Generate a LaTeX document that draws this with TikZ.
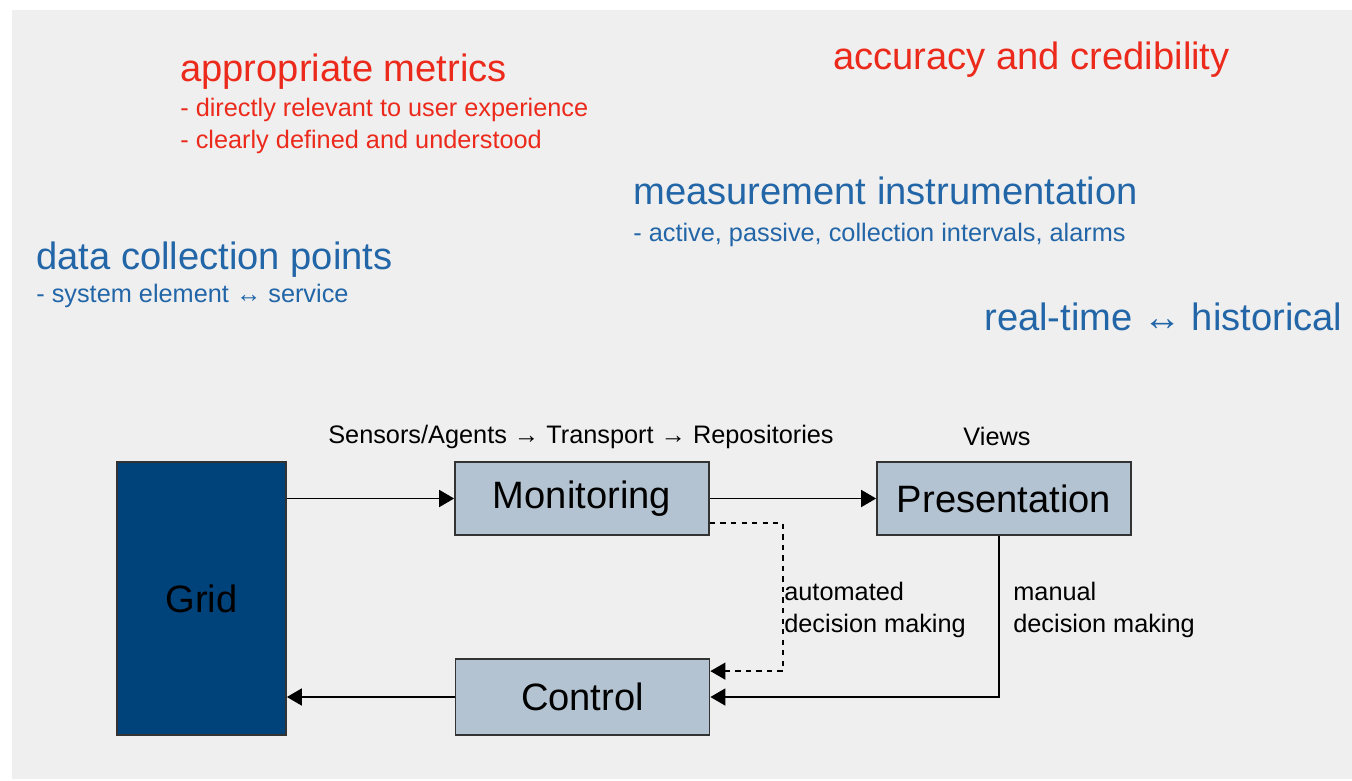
\documentclass[tikz,border=0pt]{standalone}
\usepackage{fontspec}
\setmainfont{Liberation Sans}
\usetikzlibrary{positioning, arrows.meta, calc}
\definecolor{bgGrey}{HTML}{EFEFEF}
\definecolor{txtRed}{HTML}{EC2A1C}
\definecolor{txtBlue}{HTML}{2266A8}
\definecolor{gridFill}{HTML}{00427A}
\definecolor{boxFill}{HTML}{B4C3D1}
\definecolor{boxLine}{HTML}{333333}
\newcommand{\bigtxt}{\fontsize{21.7pt}{26pt}\selectfont}
\newcommand{\smalltxt}{\fontsize{14.4pt}{18.2pt}\selectfont}

\begin{document}
\begin{tikzpicture}[blk/.style={draw=boxLine, line width=1pt, fill=boxFill, minimum width=5.08cm, minimum height=1.46cm, inner sep=0pt, font=\bigtxt},head/.style={anchor=base west, inner sep=0pt, font=\bigtxt},note/.style={anchor=base west, inner sep=0pt, font=\smalltxt},lbl/.style={inner sep=0pt, font=\smalltxt, align=left},arr/.style={-{Triangle[length=0.3cm, width=0.34cm]}, line width=1pt}]
\useasboundingbox (0,0) rectangle (27.04,-15.62);
\fill[bgGrey] (0.24,-0.2) rectangle (27.04,-15.58);
% blocks
\node[blk, fill=gridFill, minimum width=3.38cm, minimum height=5.46cm] (grid) at (4.03,-11.97) {Grid};
\node[blk] (mon) at (11.64,-9.97) {Monitoring};
\node[blk] (pres) at (20.08,-9.97) {Presentation};
\node[blk, minimum height=1.52cm] (ctrl) at (11.65,-13.94) {Control};
% connectors
\draw[arr] (grid.east |- mon.west) -- (mon.west);
\draw[arr] (mon.east) -- (pres.west);
\draw[arr, dashed, line width=0.8pt] ([yshift=0.26cm]mon.south east) -- ++(1.46,0) |- ([yshift=-0.26cm]ctrl.north east);
\draw[arr] ([xshift=-0.1cm]pres.south) |- (ctrl.east);
\draw[arr] (ctrl.west) -- (ctrl.west -| grid.east);
% labels
\node[note, anchor=base] (path) at (11.62,-8.86) {Sensors/Agents → Transport → Repositories};
\node[note, anchor=base] (views) at (19.94,-8.90) {Views};
\node[lbl, anchor=west] (auto) at (15.68,-12.19) {automated\\decision making};
\node[lbl, anchor=west] (manual) at (20.26,-12.19) {manual\\decision making};
% headings
\node[head, color=txtRed] (metrics) at (3.6,-1.64) {appropriate metrics};
\node[note, color=txtRed] (metricsA) at (3.6,-2.34) {- directly relevant to user experience};
\node[note, color=txtRed] (metricsB) at (3.6,-2.96) {- clearly defined and understood};
\node[head, color=txtRed] (accuracy) at (16.66,-1.40) {accuracy and credibility};
\node[head, color=txtBlue] (instr) at (12.66,-4.08) {measurement instrumentation};
\node[note, color=txtBlue] (instrA) at (12.66,-4.84) {- active, passive, collection intervals, alarms};
\node[head, color=txtBlue] (points) at (0.72,-5.38) {data collection points};
\node[note, color=txtBlue] (pointsA) at (0.72,-6.04) {- system element ↔ service};
\node[head, color=txtBlue] (time) at (19.68,-6.60) {real-time ↔ historical};
\end{tikzpicture}
\end{document}
